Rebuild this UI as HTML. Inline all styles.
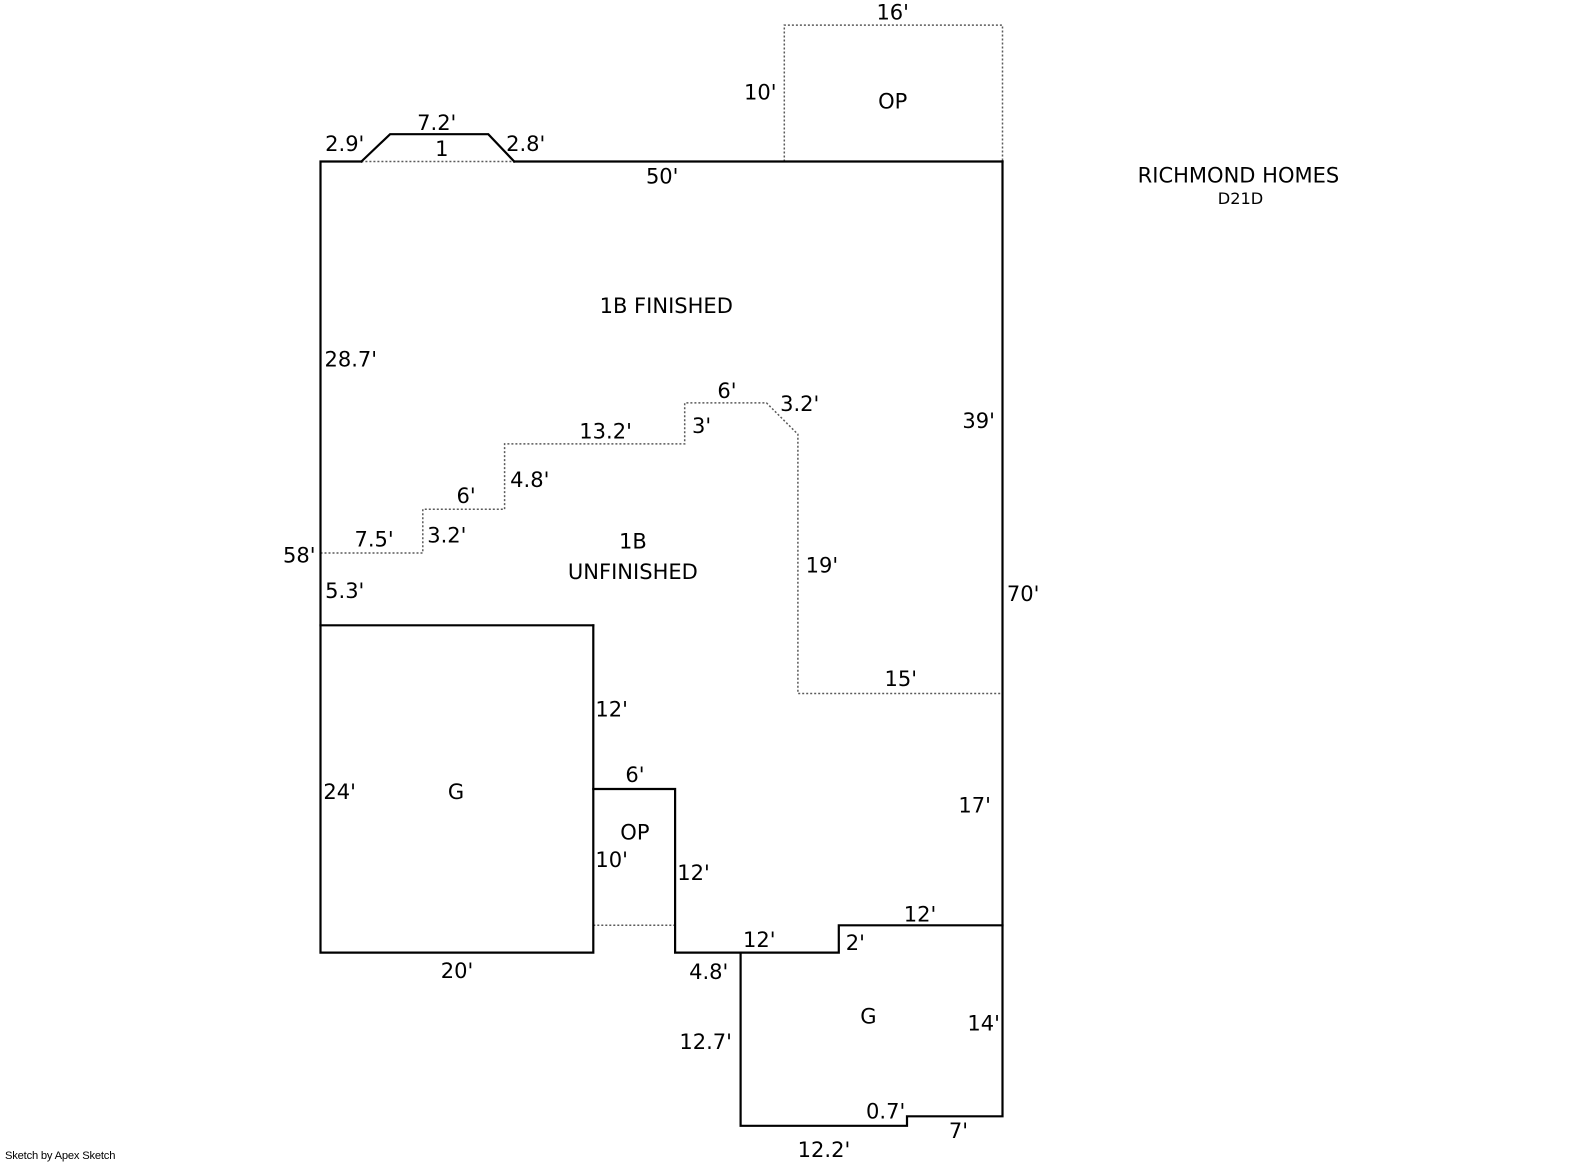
<!DOCTYPE html>
<html>
<head>
<meta charset="utf-8">
<style>
  html, body { margin: 0; padding: 0; background: #ffffff; }
  svg { display: block; }
  .t { font-family: "DejaVu Sans", "Liberation Sans", sans-serif; font-size: 20.8px; fill: #000; text-anchor: middle; }
</style>
</head>
<body>
<svg width="1585" height="1163" viewBox="0 0 1585 1163" xmlns="http://www.w3.org/2000/svg">
  <rect x="0" y="0" width="1585" height="1163" fill="#ffffff"/>

  <!-- dotted lines -->
  <g fill="none" stroke="#5a5a5a" stroke-width="1.5" stroke-dasharray="2,2">
    <path d="M361.4,161.5 H514.2"/>
    <path d="M784.3,161.5 V25.1 H1002.5 V161.5"/>
    <path d="M320.5,553 H422.8 V509.3 H504.6 V443.9 H684.7 V402.9 H766.5 L797.9,434.3 V693.5 H1002.5"/>
    <path d="M593.3,925.3 H675.1"/>
  </g>

  <!-- solid lines -->
  <g fill="none" stroke="#000" stroke-width="2.2" stroke-linejoin="miter" stroke-linecap="square">
    <path d="M361.4,161.5 H320.5 V952.6 H593.3 V625.3"/>
    <path d="M320.5,625.3 H593.3"/>
    <path d="M593.3,789 H675.1 V952.6 H838.8 V925.3 H1002.5"/>
    <path d="M1002.5,161.5 V1116.3 H907 V1125.8 H740.6 V952.6"/>
    <path d="M514.2,161.5 H1002.5"/>
    <path d="M361.4,161.5 L390.1,134.2 H488.3 L514.2,161.5"/>
  </g>

  <!-- labels -->
  <g transform="scale(1.011)">
    <text class="t" x="883" y="19.5">16'</text>
    <text class="t" x="752" y="98.5">10'</text>
    <text class="t" x="883" y="107.5">OP</text>
    <text class="t" x="432" y="128.5">7.2'</text>
    <text class="t" x="341" y="149.5">2.9'</text>
    <text class="t" x="437" y="154.5">1</text>
    <text class="t" x="520" y="149.5">2.8'</text>
    <text class="t" x="655" y="181.5">50'</text>
    <text class="t" x="659" y="309.5">1B FINISHED</text>
    <text class="t" x="347" y="362.5">28.7'</text>
    <text class="t" x="719" y="393.5">6'</text>
    <text class="t" x="791" y="406.5">3.2'</text>
    <text class="t" x="599" y="433.5">13.2'</text>
    <text class="t" x="694" y="428.5">3'</text>
    <text class="t" x="968" y="423.5">39'</text>
    <text class="t" x="524" y="481.5">4.8'</text>
    <text class="t" x="461" y="497.5">6'</text>
    <text class="t" x="370" y="540.5">7.5'</text>
    <text class="t" x="442" y="536.5">3.2'</text>
    <text class="t" x="296" y="556.5">58'</text>
    <text class="t" x="626" y="542.5">1B</text>
    <text class="t" x="626" y="572.5">UNFINISHED</text>
    <text class="t" x="813" y="566.5">19'</text>
    <text class="t" x="341" y="591.5">5.3'</text>
    <text class="t" x="1012" y="594.5">70'</text>
    <text class="t" x="891" y="678.5">15'</text>
    <text class="t" x="605" y="708.5">12'</text>
    <text class="t" x="336" y="790.5">24'</text>
    <text class="t" x="451" y="790.5">G</text>
    <text class="t" x="628" y="773.5">6'</text>
    <text class="t" x="964" y="803.5">17'</text>
    <text class="t" x="628" y="830.5">OP</text>
    <text class="t" x="605" y="857.5">10'</text>
    <text class="t" x="686" y="870.5">12'</text>
    <text class="t" x="910" y="911.5">12'</text>
    <text class="t" x="751" y="936.5">12'</text>
    <text class="t" x="846" y="939.5">2'</text>
    <text class="t" x="452" y="967.5">20'</text>
    <text class="t" x="701" y="968.5">4.8'</text>
    <text class="t" x="859" y="1012.5">G</text>
    <text class="t" x="973" y="1019.5">14'</text>
    <text class="t" x="698" y="1037.5">12.7'</text>
    <text class="t" x="876" y="1106.5">0.7'</text>
    <text class="t" x="948" y="1125.5">7'</text>
    <text class="t" x="815" y="1144.5">12.2'</text>

    <text class="t" x="1225" y="180.5">RICHMOND HOMES</text>
    <text class="t" x="1227" y="201.8" style="font-size:16px">D21D</text>
  </g>

  <text x="5" y="1159" style="font-family:'Liberation Sans', sans-serif; font-size:11.2px; fill:#000; letter-spacing:-0.2px">Sketch by Apex Sketch</text>
</svg>
</body>
</html>
